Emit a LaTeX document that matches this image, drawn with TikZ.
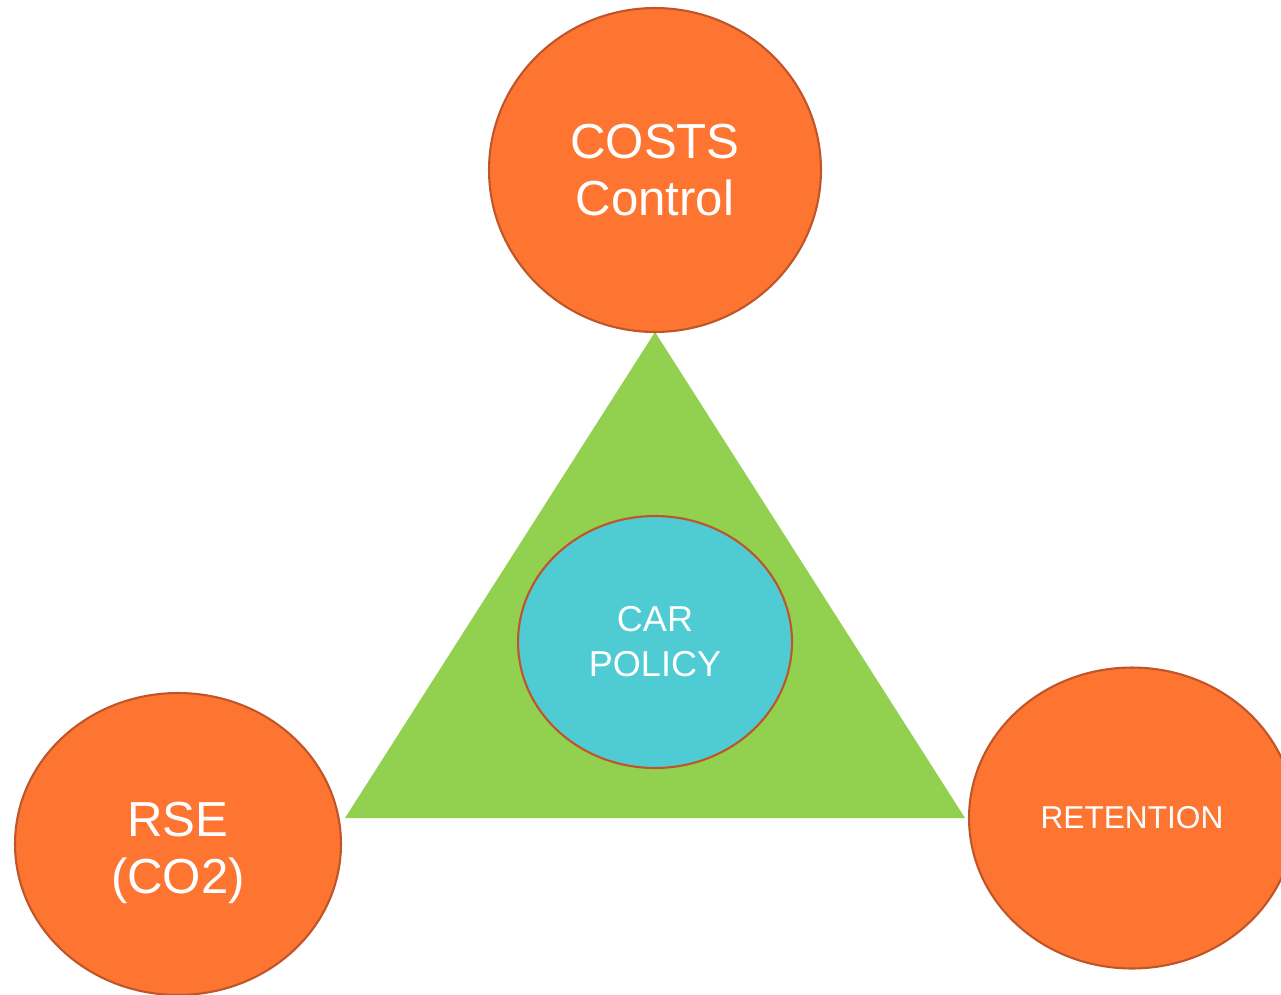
\documentclass[tikz,border=0pt]{standalone}
\usepackage{fontspec}
\setmainfont{Liberation Sans}
\usetikzlibrary{shapes.geometric}
\definecolor{og}{HTML}{FE7431}
\definecolor{ob}{HTML}{C0552A}
\definecolor{cy}{HTML}{4FCBD3}
\definecolor{gr}{HTML}{92D050}
\tikzset{
    goal/.style =   {ellipse,
                    fill=og,
                    draw=ob,
                    text=white,
                    line width=1.2pt,
                    align=center,
                    inner sep=0pt},
    core/.style =   {ellipse,
                    fill=cy,
                    draw=ob,
                    text=white,
                    line width=1.2pt,
                    align=center,
                    inner sep=0pt,
                    minimum width=5.48cm,
                    minimum height=5.04cm},
    -,
    big/.style =    {font=\fontsize{28}{32.5}\selectfont},
    draw=white!20!black}
\begin{document}
\begin{tikzpicture}[x=0.02cm,y=-0.02cm]
                    \useasboundingbox (0,0) rectangle (1281,994);
                    \coordinate      (A) at (655,332);
                    \coordinate      (B) at (345,818);
                    \coordinate      (C) at (965,818);
                    \fill [gr]       (A) -- (B) -- (C) -- cycle;
                    \node[goal,big,minimum width=6.64cm,minimum height=6.48cm]
                                     (costs) at (655,170)      {COSTS\\Control};
                    \node[goal,minimum width=6.52cm,minimum height=6.04cm,
                          label={[big,text=white,align=center,yshift=-0.18cm]center:RSE\\(CO2)}]
                                     (rse) at (178,844)        {};
                    \node[goal,font=\fontsize{18}{21}\selectfont,minimum width=6.52cm,minimum height=6.02cm]
                                     (ret) at (1132,818)       {RETENTION};
                    \node[core,font=\fontsize{20.5}{25.6}\selectfont]
                                     (car) at (655,642)        {CAR\\POLICY};
\end{tikzpicture}
\end{document}
